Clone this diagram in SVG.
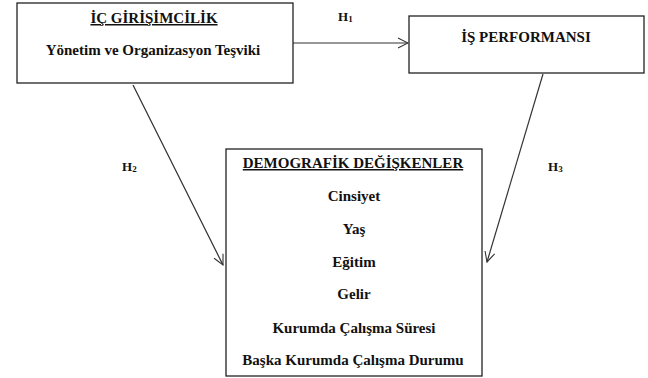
<svg xmlns="http://www.w3.org/2000/svg" width="648" height="378" viewBox="0 0 648 378">
<defs>
<marker id="arr" viewBox="0 0 12 12" refX="11" refY="6" markerWidth="12" markerHeight="12" markerUnits="userSpaceOnUse" orient="auto">
<path d="M1,1 L11,6 L1,11" fill="none" stroke="#333" stroke-width="1.1"/>
</marker>
</defs>
<style>
.box{fill:#fff;stroke:#222;stroke-width:1.3}
.t{font-family:"Liberation Serif","Times New Roman",serif;font-weight:bold;fill:#111;text-anchor:middle;font-size:15px}
.h{font-family:"Liberation Serif","Times New Roman",serif;font-weight:bold;fill:#111;font-size:13px}
.ln{fill:none;stroke:#333;stroke-width:1.2;marker-end:url(#arr)}
</style>
<rect width="648" height="378" fill="#fff"/>
<g id="connectors">
<line class="ln" x1="293" y1="43" x2="408" y2="43"/>
<line class="ln" x1="133" y1="85" x2="223" y2="265"/>
<line class="ln" x1="543" y1="74" x2="487" y2="262"/>
<text class="h" x="338" y="21">H<tspan font-size="9" dy="1">1</tspan></text>
<text class="h" x="122" y="171">H<tspan font-size="9" dy="1">2</tspan></text>
<text class="h" x="548" y="171">H<tspan font-size="9" dy="1">3</tspan></text>
</g>
<g id="ic-girisimcilik">
<rect class="box" x="17" y="3" width="276" height="80"/>
<text class="t" x="154" y="23" text-decoration="underline">İÇ GİRİŞİMCİLİK</text>
<text class="t" x="153" y="55">Yönetim ve Organizasyon Teşviki</text>
</g>
<g id="is-performansi">
<rect class="box" x="409" y="16" width="235" height="57"/>
<text class="t" x="526" y="42">İŞ PERFORMANSI</text>
</g>
<g id="demografik">
<rect class="box" x="226" y="149" width="256" height="227"/>
<text class="t" x="353" y="168" text-decoration="underline">DEMOGRAFİK DEĞİŞKENLER</text>
<text class="t" x="354" y="201">Cinsiyet</text>
<text class="t" x="354" y="234">Yaş</text>
<text class="t" x="354" y="267">Eğitim</text>
<text class="t" x="354" y="299">Gelir</text>
<text class="t" x="354" y="333">Kurumda Çalışma Süresi</text>
<text class="t" x="353" y="365">Başka Kurumda Çalışma Durumu</text>
</g>
</svg>
